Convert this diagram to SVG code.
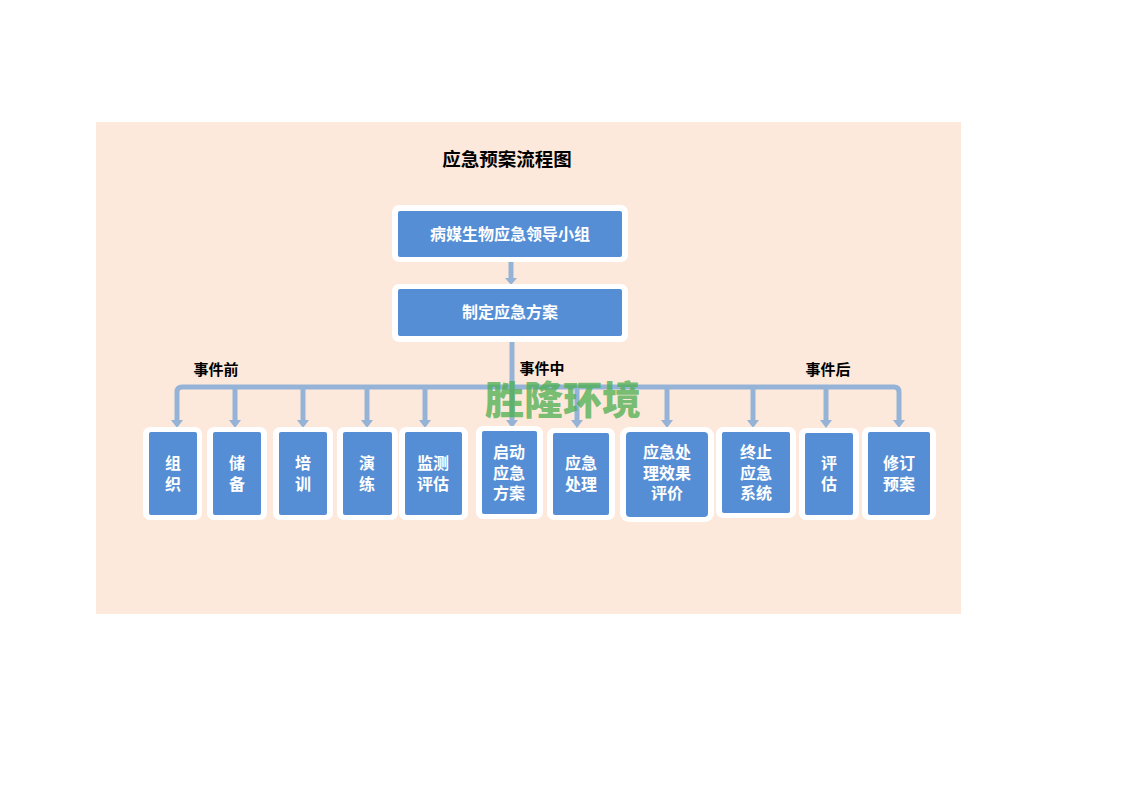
<svg xmlns="http://www.w3.org/2000/svg" width="1122" height="793" viewBox="0 0 1122 793">
<style>
.frame{fill:#ffffff;}
.box{fill:#558ED5;}
.lbl{font-family:"Liberation Sans","Noto Sans CJK SC",sans-serif;font-weight:bold;fill:#ffffff;font-size:16px;text-anchor:middle;}
.hdr{font-family:"Liberation Sans","Noto Sans CJK SC",sans-serif;font-weight:bold;fill:#000000;font-size:15px;text-anchor:middle;}
.ln{stroke:#95B3D7;stroke-width:5;fill:none;}
</style>
<rect x="0" y="0" width="1122" height="793" fill="#ffffff"/>
<rect x="96" y="122" width="865" height="492" fill="#FDE9DB"/>
<text x="507" y="166" class="hdr" style="font-size:18.5px">应急预案流程图</text>
<text x="216" y="375" class="hdr">事件前</text>
<text x="542" y="374" class="hdr">事件中</text>
<text x="828" y="375" class="hdr">事件后</text>

<g id="connectors">
<path class="ln" d="M511,262 L511,278"/>
<path d="M505,278 L517,278 L511,285 Z" fill="#95B3D7"/>
<path class="ln" d="M512,337 L512,420"/>
<path d="M177,420 L177,392 Q177,387 182,387 L894,387 Q899,387 899,392 L899,420" class="ln"/>
<path class="ln" d="M235,387 L235,420"/>
<path class="ln" d="M303,387 L303,420"/>
<path class="ln" d="M367,387 L367,420"/>
<path class="ln" d="M425,387 L425,420"/>
<path class="ln" d="M577,387 L577,420"/>
<path class="ln" d="M667,387 L667,420"/>
<path class="ln" d="M753,387 L753,420"/>
<path class="ln" d="M826,387 L826,420"/>
<g fill="#95B3D7">
<path d="M171,420 L183,420 L177,428 Z"/>
<path d="M229,420 L241,420 L235,428 Z"/>
<path d="M297,420 L309,420 L303,428 Z"/>
<path d="M361,420 L373,420 L367,428 Z"/>
<path d="M419,420 L431,420 L425,428 Z"/>
<path d="M506,420 L518,420 L512,428 Z"/>
<path d="M571,420 L583,420 L577,428 Z"/>
<path d="M661,420 L673,420 L667,428 Z"/>
<path d="M747,420 L759,420 L753,428 Z"/>
<path d="M820,420 L832,420 L826,428 Z"/>
<path d="M893,420 L905,420 L899,428 Z"/>
</g>
</g>

<g id="n-leader">
<rect class="frame" x="392" y="205" width="236" height="57" rx="7"/>
<rect class="box" x="398" y="211" width="224" height="46" rx="2"/>
<text x="510" y="240" class="lbl">病媒生物应急领导小组</text>
</g>
<g id="n-plan">
<rect class="frame" x="392" y="284" width="236" height="58" rx="7"/>
<rect class="box" x="398" y="289" width="224" height="47" rx="2"/>
<text x="510" y="318" class="lbl">制定应急方案</text>
</g>

<g id="n-org">
<rect class="frame" x="143" y="427" width="59" height="93" rx="7"/>
<rect class="box" x="149" y="432" width="48" height="83" rx="2"/>
<text x="173" y="469" class="lbl">组</text><text x="173" y="490" class="lbl">织</text>
</g>
<g id="n-store">
<rect class="frame" x="207" y="427" width="60" height="93" rx="7"/>
<rect class="box" x="213" y="432" width="48" height="83" rx="2"/>
<text x="237" y="469" class="lbl">储</text><text x="237" y="490" class="lbl">备</text>
</g>
<g id="n-train">
<rect class="frame" x="273" y="427" width="60" height="93" rx="7"/>
<rect class="box" x="279" y="432" width="48" height="83" rx="2"/>
<text x="303" y="469" class="lbl">培</text><text x="303" y="490" class="lbl">训</text>
</g>
<g id="n-drill">
<rect class="frame" x="337" y="427" width="61" height="93" rx="7"/>
<rect class="box" x="343" y="432" width="49" height="83" rx="2"/>
<text x="367" y="469" class="lbl">演</text><text x="367" y="490" class="lbl">练</text>
</g>
<g id="n-monitor">
<rect class="frame" x="399" y="427" width="69" height="93" rx="7"/>
<rect class="box" x="405" y="432" width="57" height="83" rx="2"/>
<text x="433" y="469" class="lbl">监测</text><text x="433" y="490" class="lbl">评估</text>
</g>
<g id="n-start">
<rect class="frame" x="476" y="426" width="67" height="93" rx="7"/>
<rect class="box" x="482" y="431" width="55" height="83" rx="2"/>
<text x="509" y="458" class="lbl">启动</text><text x="509" y="479" class="lbl">应急</text><text x="509" y="499" class="lbl">方案</text>
</g>
<g id="n-handle">
<rect class="frame" x="547" y="428" width="68" height="92" rx="7"/>
<rect class="box" x="553" y="433" width="56" height="82" rx="2"/>
<text x="581" y="469" class="lbl">应急</text><text x="581" y="490" class="lbl">处理</text>
</g>
<g id="n-eval-effect">
<rect class="frame" x="620" y="427" width="94" height="95" rx="9"/>
<rect class="box" x="626" y="432" width="82" height="85" rx="4"/>
<text x="667" y="458" class="lbl">应急处</text><text x="667" y="479" class="lbl">理效果</text><text x="667" y="499" class="lbl">评价</text>
</g>
<g id="n-terminate">
<rect class="frame" x="716" y="427" width="80" height="91" rx="7"/>
<rect class="box" x="722" y="432" width="68" height="81" rx="2"/>
<text x="756" y="458" class="lbl">终止</text><text x="756" y="479" class="lbl">应急</text><text x="756" y="499" class="lbl">系统</text>
</g>
<g id="n-assess">
<rect class="frame" x="799" y="428" width="60" height="92" rx="7"/>
<rect class="box" x="805" y="433" width="48" height="82" rx="2"/>
<text x="829" y="469" class="lbl">评</text><text x="829" y="490" class="lbl">估</text>
</g>
<g id="n-revise">
<rect class="frame" x="862" y="427" width="74" height="93" rx="7"/>
<rect class="box" x="868" y="432" width="62" height="83" rx="2"/>
<text x="899" y="469" class="lbl">修订</text><text x="899" y="490" class="lbl">预案</text>
</g>

<text x="563" y="414" style="font-family:'Noto Sans CJK SC',sans-serif;font-weight:900;font-size:39px;fill:#4CAF50;fill-opacity:0.75;text-anchor:middle;">胜隆环境</text>
</svg>
